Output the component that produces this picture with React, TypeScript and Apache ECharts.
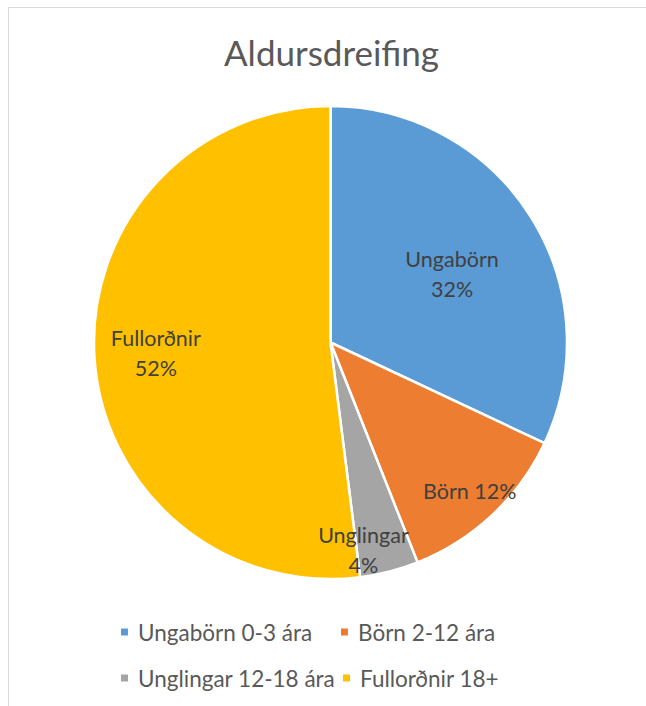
import React, { useEffect, useRef } from "react";
import * as echarts from "echarts";

const categories = ["Ungabörn 0-3 ára", "Börn 2-12 ára", "Unglingar 12-18 ára", "Fullorðnir 18+"];
const shortNames = ["Ungabörn", "Börn", "Unglingar", "Fullorðnir"];
const values = [32, 12, 4, 52];
const colors = ["#5B9BD5", "#ED7D31", "#A5A5A5", "#FFC000"];

// layout constants
const CX = 330.5;
const CY = 342.5;
const R = 236.5;
const labelRadialFrac = [0.59, 0.86, 0.89, 0.74];
const labelAngleShift = [3, 0, 5.4, 0];
const labelSingleLine = [false, true, false, false];
const legendPos = [
  { left: 119, top: 620 },
  { left: 339, top: 620 },
  { left: 119, top: 666 },
  { left: 341, top: 666 },
];
const FONT = "Lato, 'Open Sans', sans-serif";

export default function App() {
  const ref = useRef<HTMLDivElement>(null);
  useEffect(() => {
    if (!ref.current) return;
    const chart = echarts.init(ref.current, null, { renderer: "svg" });
    const total = values.reduce((a, b) => a + b, 0);
    const midAngles: number[] = [];
    let acc = 0;
    values.forEach((v) => {
      midAngles.push(((acc + v / 2) / total) * 360);
      acc += v;
    });
    const squarePath = "path://M0,0L10,0L10,10L0,10Z";
    const legends = categories.map((name, i) => ({
      show: true,
      data: [name],
      left: legendPos[i].left,
      top: legendPos[i].top,
      orient: "horizontal",
      padding: 0,
      itemWidth: 17,
      itemHeight: 9,
      icon: squarePath,
      selectedMode: false,
      textStyle: {
        fontFamily: FONT,
        fontSize: 22.5,
        lineHeight: 24,
        color: "#595959",
      },
    }));
    chart.setOption({
      animation: false,
      backgroundColor: "#ffffff",
      color: colors,
      title: {
        text: "Aldursdreifing",
        left: 224,
        top: 33,
        padding: 0,
        textStyle: {
          fontFamily: FONT,
          fontWeight: 400,
          fontSize: 35,
          lineHeight: 38,
          color: "#595959",
        },
      },
      legend: legends,
      graphic: [
        {
          type: "rect",
          shape: { x: 8.5, y: 7.5, width: 800, height: 900 },
          style: { fill: "none", stroke: "#d9d9d9", lineWidth: 1 },
          silent: true,
          z: -1,
        },
      ],
      series: [
        {
          type: "pie",
          center: [CX, CY],
          radius: [0, R],
          startAngle: 90,
          clockwise: true,
          avoidLabelOverlap: false,
          itemStyle: { borderColor: "#ffffff", borderWidth: 2.5 },
          emphasis: { disabled: true },
          label: {
            show: true,
            position: "inside",
            fontFamily: FONT,
            fontSize: 21.5,
            lineHeight: 30,
            color: "#404040",
            align: "center",
            formatter: (p: any) => {
              const i = p.dataIndex;
              const pct = Math.round(p.percent) + "%";
              return shortNames[i] + (labelSingleLine[i] ? " " : "\n") + pct;
            },
          },
          labelLine: { show: false },
          labelLayout: (params: any) => {
            const i = params.dataIndex;
            const a = ((midAngles[i] + labelAngleShift[i]) * Math.PI) / 180;
            const d = labelRadialFrac[i] * R;
            return {
              x: CX + d * Math.sin(a),
              y: CY - d * Math.cos(a),
              align: "center",
              verticalAlign: "middle",
            };
          },
          data: categories.map((name, i) => ({ name, value: values[i] })),
        },
      ],
    });
    return () => chart.dispose();
  }, []);
  return (
    <div
      ref={ref}
      style={{ position: "absolute", left: 0, top: 0, width: 646, height: 706 }}
    />
  );
}
